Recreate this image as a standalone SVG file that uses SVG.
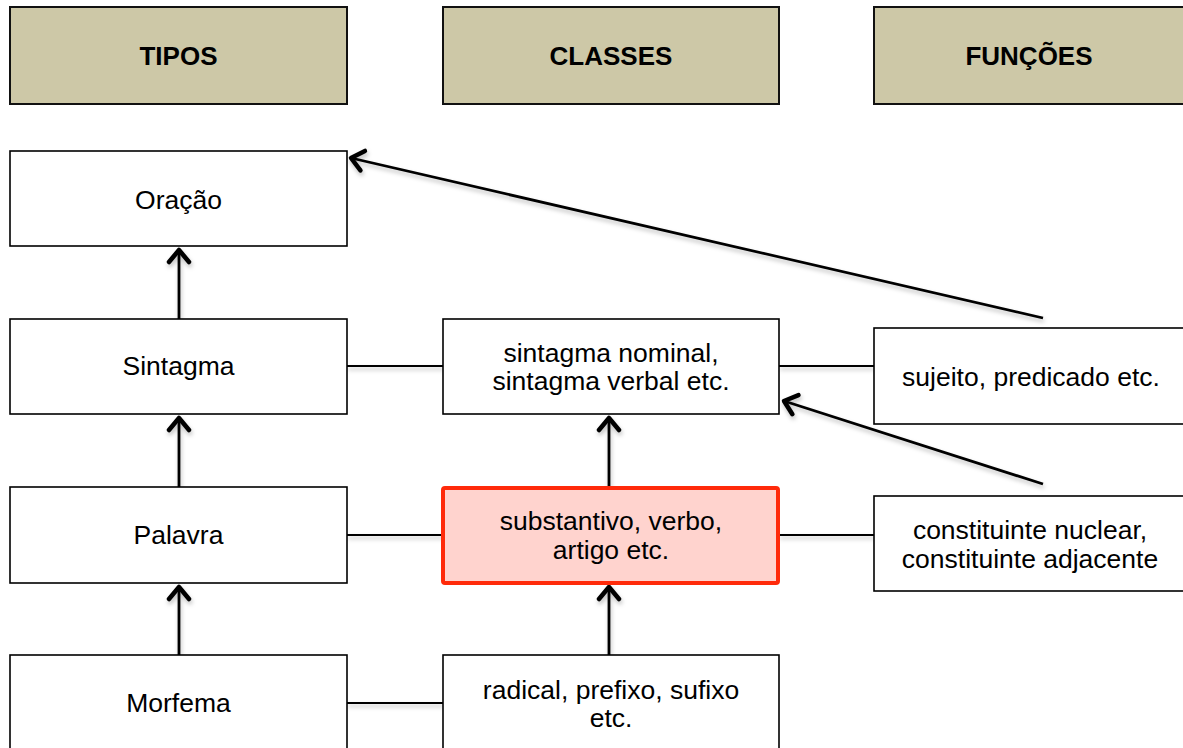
<svg xmlns="http://www.w3.org/2000/svg" width="1183" height="748" viewBox="0 0 1183 748">
<style>
.hdr{fill:#CDC8A7;stroke:#111;stroke-width:2}
.box{fill:#fff;stroke:#000;stroke-width:1.6}
.hot{fill:#FFD3CE;stroke:#FF2A0A;stroke-width:4}
.ht{font-family:"Liberation Sans",Arial,sans-serif;font-weight:bold;font-size:26px;fill:#000;text-anchor:middle;dominant-baseline:central}
.t{font-family:"Liberation Sans",Arial,sans-serif;font-size:26.5px;fill:#000;text-anchor:middle;dominant-baseline:central}
.ln{stroke:#000;stroke-width:1.8;fill:none}
.ar{stroke:#000;stroke-width:2.8;fill:none;marker-end:url(#ah)}
</style>
<defs>
<marker id="ah" markerUnits="userSpaceOnUse" markerWidth="30" markerHeight="30" viewBox="-15 -15 30 30" refX="0" refY="0" orient="auto">
<path d="M-12,-10 L0,0 L-12,10" fill="none" stroke="#000" stroke-width="4.5" stroke-linecap="round" stroke-linejoin="round"/>
</marker>
<filter id="sh" x="-10%" y="-10%" width="130%" height="140%">
<feDropShadow dx="1" dy="3" stdDeviation="2" flood-color="#000" flood-opacity="0.25"/>
</filter>
</defs>
<rect width="1183" height="748" fill="#fff"/>
<g id="connectors" filter="url(#sh)">
<line class="ln" x1="347" y1="366" x2="443" y2="366"/>
<line class="ln" x1="779" y1="366" x2="874" y2="366"/>
<line class="ln" x1="347" y1="535" x2="443" y2="535"/>
<line class="ln" x1="779" y1="535" x2="874" y2="535"/>
<line class="ln" x1="347" y1="703" x2="443" y2="703"/>
<line class="ar" x1="179" y1="319" x2="179" y2="250"/>
<line class="ar" x1="179" y1="487" x2="179" y2="418"/>
<line class="ar" x1="179" y1="655" x2="179" y2="587"/>
<line class="ar" x1="609" y1="487" x2="609" y2="418"/>
<line class="ar" x1="609" y1="655" x2="609" y2="587"/>
<line class="ar" x1="1043" y1="318" x2="351" y2="158"/>
<line class="ar" x1="1043" y1="484" x2="784" y2="401"/>
</g>
<g id="h-tipos"><rect class="hdr" x="10" y="7" width="337" height="97"/><text class="ht" x="178.5" y="56">TIPOS</text></g>
<g id="h-classes"><rect class="hdr" x="443" y="7" width="336" height="97"/><text class="ht" x="611" y="56">CLASSES</text></g>
<g id="h-funcoes"><rect class="hdr" x="874" y="7" width="320" height="97"/><text class="ht" x="1029" y="56">FUNÇÕES</text></g>
<g id="oracao"><rect class="box" x="10" y="151" width="337" height="95"/><text class="t" x="178.5" y="200">Oração</text></g>
<g id="sintagma"><rect class="box" x="10" y="319" width="337" height="95"/><text class="t" x="178.5" y="366">Sintagma</text></g>
<g id="palavra"><rect class="box" x="10" y="487" width="337" height="96"/><text class="t" x="178.5" y="535">Palavra</text></g>
<g id="morfema"><rect class="box" x="10" y="655" width="337" height="100"/><text class="t" x="178.5" y="703">Morfema</text></g>
<g id="sint-classes"><rect class="box" x="443" y="319" width="336" height="95"/><text class="t" x="611" y="353">sintagma nominal,</text><text class="t" x="611" y="381">sintagma verbal etc.</text></g>
<g id="pal-classes"><rect class="hot" x="443" y="488" width="335" height="95" rx="2"/><text class="t" x="611" y="521">substantivo, verbo,</text><text class="t" x="611" y="550">artigo etc.</text></g>
<g id="morf-classes"><rect class="box" x="443" y="655" width="336" height="100"/><text class="t" x="611" y="690">radical, prefixo, sufixo</text><text class="t" x="611" y="718">etc.</text></g>
<g id="sint-funcoes"><rect class="box" x="874" y="328" width="320" height="96"/><text class="t" x="1031" y="377">sujeito, predicado etc.</text></g>
<g id="pal-funcoes"><rect class="box" x="874" y="496" width="320" height="95"/><text class="t" x="1030" y="530">constituinte nuclear,</text><text class="t" x="1030" y="559">constituinte adjacente</text></g>
</svg>
